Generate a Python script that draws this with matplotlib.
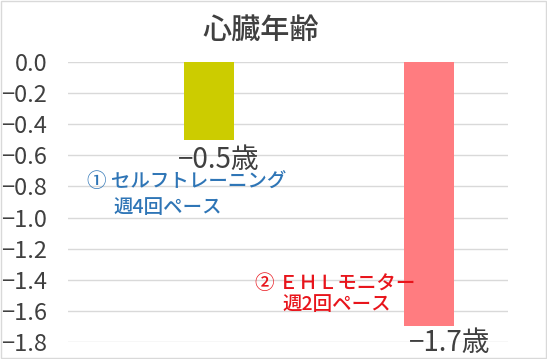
import matplotlib.pyplot as plt
from matplotlib.patches import Rectangle

plt.rcParams['font.family'] = ['Noto Sans CJK JP', 'DejaVu Sans']

# data
categories = ['セルフトレーニング', 'EHLモニター']
values = [-0.5, -1.7]
bar_colors = ['#CCCC00', '#FF7C80']
yticks = [0.0, -0.2, -0.4, -0.6, -0.8, -1.0, -1.2, -1.4, -1.6, -1.8]

fig = plt.figure(figsize=(5.47, 3.59), dpi=100)
ax = fig.add_axes([68 / 547, 1 - 342 / 359, 440 / 547, 280 / 359])

x = list(range(len(values)))
ax.bar(x, values, width=0.227, color=bar_colors, zorder=3)
ax.set_xlim(-0.64, 1.36)
ax.set_ylim(-1.8, 0.0)
ax.set_yticks(yticks)
ax.set_yticklabels([f"{t:.1f}".replace('-', '−') for t in yticks],
                   fontsize=17, color='#404040')
ax.set_xticks([])
ax.tick_params(axis='y', length=0, pad=15)
ax.grid(axis='y', color='#D9D9D9', linewidth=1, zorder=0)
for s in ax.spines.values():
    s.set_visible(False)

# value labels
lab_pos = [(0.046, -0.63), (1.096, -1.806)]
for v, (lx, ly) in zip(values, lab_pos):
    ax.text(lx, ly, f"{v:.1f}".replace('-', '−') + '歳', ha='center', va='center',
            fontsize=20, color='#404040', clip_on=False)

# annotations
blue = '#2E75B6'
red = '#E8141B'
kw = dict(ha='left', va='center', fontsize=14, fontweight='medium')
ax.text(-0.554, -0.771, '① ' + categories[0], color=blue, **kw)
ax.text(-0.435, -0.938, '週4回ペース', color=blue, **kw)
ax.text(0.21, -1.427, '② ＥＨＬモニター', color=red, **kw)
ax.text(0.333, -1.562, '週2回ペース', color=red, **kw)

fig.text(261 / 547, 1 - 30 / 359, '心臓年齢', ha='center', va='center',
         fontsize=21, fontweight='medium', color='#404040')

fig.patches.append(Rectangle((0.002, 0.003), 0.996, 0.994, transform=fig.transFigure,
                             fill=False, edgecolor='#D9D9D9', linewidth=1))

fig.savefig('out.png', dpi=100)
